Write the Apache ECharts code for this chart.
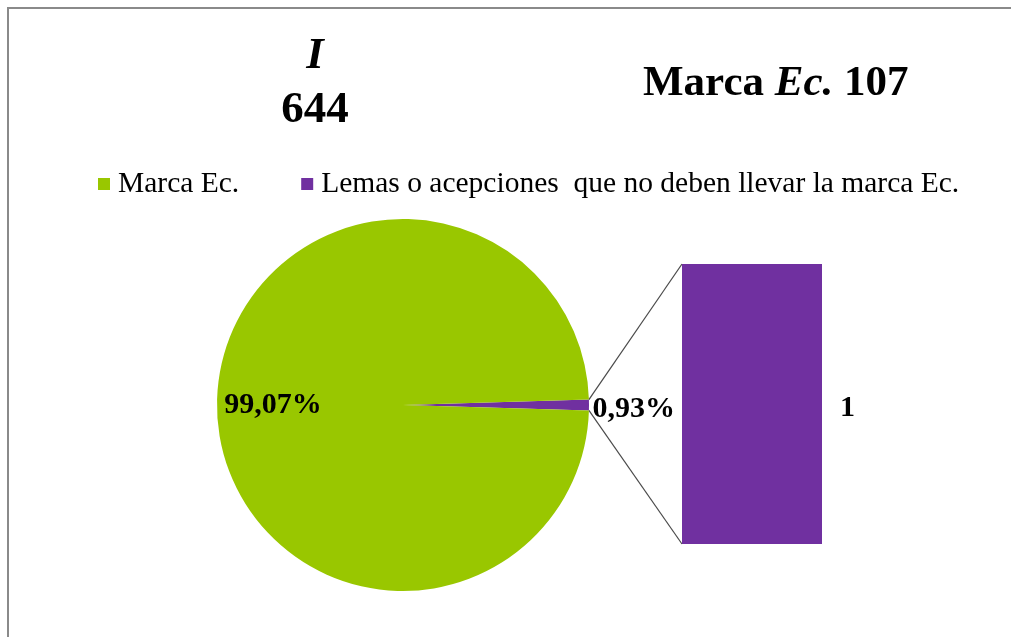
<!DOCTYPE html>
<html>
<head>
<meta charset="utf-8">
<script src="https://cdn.jsdelivr.net/npm/echarts@6/dist/echarts.min.js"></script>
<style>
  html, body { margin: 0; padding: 0; background: #fff; }
  #main { width: 1011px; height: 637px; }
</style>
</head>
<body>
<div id="main"></div>
<script>
// data
const categories = ["Lemas o acepciones  que no deben llevar la marca Ec.", "Marca Ec."];
const counts = [1, 106];
const pctLabels = ["0,93%", "99,07%"];
const barValues = [1];
const colors = ["#7030a0", "#99c700"];

const FONT = "Liberation Serif";
const cx = 403, cy = 405, r = 186;
const bar = { left: 682, top: 264, width: 140, height: 280 };

const total = counts.reduce((a, b) => a + b, 0);
const halfAngle = (counts[0] / total) * 180; // degrees, purple slice centred on 3 o'clock
const rad = halfAngle * Math.PI / 180;
const edgeTop = [cx + r * Math.cos(rad), cy - r * Math.sin(rad)];
const edgeBot = [cx + r * Math.cos(rad), cy + r * Math.sin(rad)];

const chart = echarts.init(document.getElementById("main"));
chart.setOption({
  backgroundColor: "#fff",
  animation: false,
  title: [
    {
      text: "{it|I}\n{b|644}",
      left: 315,
      top: 29,
      padding: 0,
      textAlign: "center",
      textStyle: {
        rich: {
          it: { fontFamily: FONT, fontSize: 45, fontWeight: "bold", fontStyle: "italic", color: "#000", lineHeight: 54, align: "center" },
          b: { fontFamily: FONT, fontSize: 45, fontWeight: "bold", color: "#000", lineHeight: 54, align: "center" },
        },
      },
    },
    {
      text: "{b|Marca }{it|Ec.}{b| 107}",
      left: 643,
      top: 62,
      padding: 0,
      textStyle: {
        rich: {
          b: { fontFamily: FONT, fontSize: 43, fontWeight: "bold", color: "#000" },
          it: { fontFamily: FONT, fontSize: 43, fontWeight: "bold", fontStyle: "italic", color: "#000" },
        },
      },
    },
  ],
  legend: {
    left: 98,
    top: 169,
    padding: 0,
    data: [categories[1], categories[0]],
    icon: "rect",
    itemWidth: 12,
    itemHeight: 12,
    itemGap: 62,
    textStyle: { fontFamily: FONT, fontSize: 29.5, color: "#000", padding: [0, 0, 0, 3] },
  },
  grid: { left: bar.left, top: bar.top, width: bar.width, height: bar.height },
  xAxis: { type: "category", data: ["x"], show: false },
  yAxis: { type: "value", min: 0, max: 1, show: false },
  graphic: [
    {
      type: "rect",
      shape: { x: 8, y: 8, width: 1200, height: 800 },
      style: { fill: "none", stroke: "#8a8a8a", lineWidth: 2 },
      z: 100,
    },
    {
      type: "line",
      shape: { x1: edgeTop[0], y1: edgeTop[1], x2: bar.left, y2: bar.top },
      style: { stroke: "#4a4a4a", lineWidth: 1.2 },
    },
    {
      type: "line",
      shape: { x1: edgeBot[0], y1: edgeBot[1], x2: bar.left, y2: bar.top + bar.height },
      style: { stroke: "#4a4a4a", lineWidth: 1.2 },
    },
  ],
  series: [
    {
      type: "pie",
      center: [cx, cy],
      radius: r,
      startAngle: halfAngle,
      clockwise: true,
      legendHoverLink: false,
      data: categories.map((name, i) => ({
        name: name,
        value: counts[i],
        itemStyle: { color: colors[i] },
        label: { position: i === 0 ? "outside" : "inside" },
        labelLine: { show: false, length: 0.5, length2: 0 },
      })),
      label: {
        formatter: (p) => pctLabels[p.dataIndex],
        fontFamily: FONT,
        fontSize: 30,
        fontWeight: "bold",
        color: "#000",
      },
      labelLayout: (p) => (p.dataIndex === 1 ? { dx: -34 } : { dx: -2, dy: 4 }),
    },
    {
      type: "bar",
      name: categories[0],
      data: barValues,
      barWidth: "100%",
      itemStyle: { color: colors[0] },
      label: {
        show: true,
        position: "right",
        distance: 18,
        fontFamily: FONT,
        fontSize: 30,
        fontWeight: "bold",
        color: "#000",
        offset: [0, 4],
      },
    },
  ],
});
</script>
</body>
</html>
